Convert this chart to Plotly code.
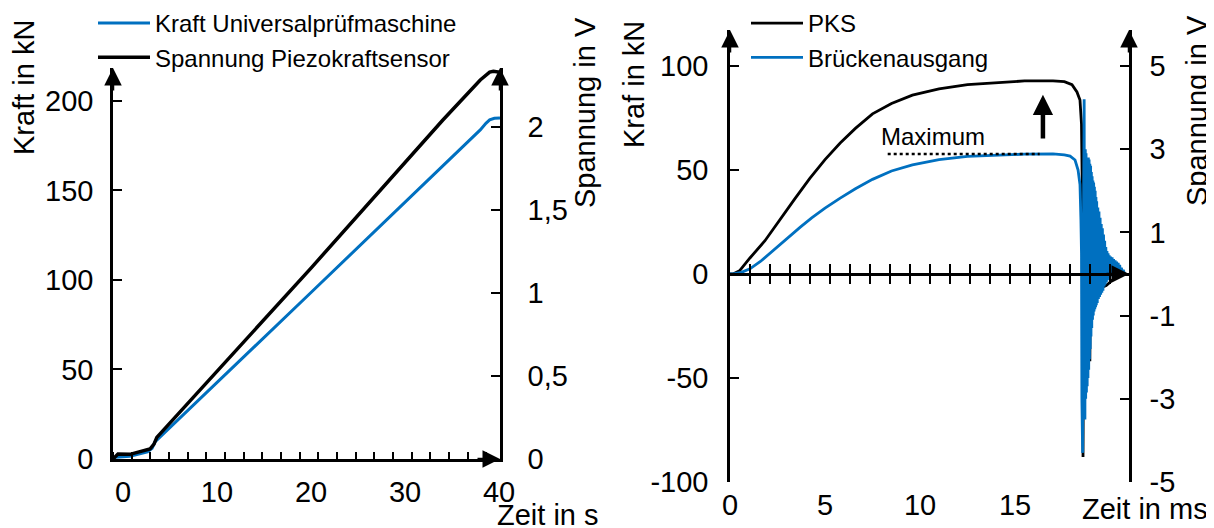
import plotly.graph_objects as go

# The page body has an 8 px margin, so the figure is drawn 8 px in from the top-left corner.
PAGE_OFFSET = 8
W, H = 1214 - PAGE_OFFSET, 528 - PAGE_OFFSET
FONT = "Liberation Sans, Arial, sans-serif"
BLUE = "#0070C0"
TICK_SIZE = 29
TITLE_SIZE = 29
LEG_SIZE = 24

# ---------------- left chart data ----------------
left_t_black = [-1.06, -0.53, 0.74, 1.8, 2.87, 3.3, 3.6, 20.0, 34.0, 38.0, 38.6, 39.0, 39.4, 39.8, 40.1]
left_v_black = [0.0, 0.03, 0.028, 0.042, 0.06, 0.09, 0.13, 1.15, 2.04, 2.283, 2.315, 2.33, 2.335, 2.335, 2.33]
left_t_blue = [-1.06, -0.8, 0.74, 1.8, 2.6, 3.1, 3.4, 20.0, 38.0, 38.6, 39.0, 39.5, 40.1]
left_f_blue = [0.0, 1.0, 1.5, 3.0, 4.0, 6.0, 9.5, 93.0, 183.8, 187.5, 189.4, 190.3, 190.5]
left_x_range = [-1.06, 40.1]
left_y_range = [0, 218.4]
left_y2_range = [0, 2.355]
left_x_labels = [0, 10, 20, 30, 40]

# ---------------- right chart data ----------------
# PKS (kN, left axis)
pks_t = [0, 0.16, 0.5, 1.05, 1.84, 2.6, 3.4, 4.2, 5.0, 5.8, 6.6, 7.5, 8.5, 9.6, 11.0, 12.5,
         14.0, 15.5, 17.0, 17.6, 18.0, 18.26, 18.42, 18.5, 18.55, 18.58,
         18.62, 18.66, 18.70, 18.74, 18.78, 18.82, 18.86, 18.90, 18.94, 18.98, 19.02, 19.06,
         19.10, 19.14, 19.18, 19.22, 19.26, 19.30, 19.34, 19.40, 19.46, 19.52, 19.60, 19.70,
         19.80, 19.90, 20.00, 20.10, 20.25, 20.40, 20.55, 20.70, 20.85]
pks_f = [0, 0, 1.5, 7.7, 16, 26, 36, 46, 55, 63, 70, 77, 82, 86, 89, 91,
         92, 92.8, 92.8, 92.5, 91, 87.5, 83.6, 72, 35, -88,
         0, 30, -30, 24, -35, 20, -38, 18, -42, 15, -25, 12,
         -18, 10, -15, 8, -12, 6, -10, 4, -8, 2, -6, -6,
         -5.6, -5, -4, -3, -2, -1.2, -0.4, 0.2, 0]
# Brückenausgang (V, right axis)
br_t_rise = [0, 0.16, 0.6, 1.05, 1.6, 2.1, 2.63, 3.2, 3.7, 4.3, 5.0, 5.8, 6.6, 7.5, 8.5, 9.6,
             11.0, 12.5, 14.0, 15.5, 17.0, 17.6, 17.9, 18.16, 18.32, 18.42, 18.47]
br_v_rise = [0, 0, 0.04, 0.125, 0.3, 0.5, 0.7, 0.925, 1.125, 1.35, 1.585, 1.825, 2.05, 2.275, 2.475, 2.625,
             2.75, 2.825, 2.86, 2.88, 2.885, 2.865, 2.835, 2.74, 2.5, 2.15, 1.3]
br_t_osc = [18.50, 18.52, 18.54, 18.56, 18.58, 18.60, 18.62, 18.64, 18.66, 18.68, 18.70, 18.72,
            18.74, 18.76, 18.78, 18.80, 18.82, 18.84, 18.86, 18.88, 18.90, 18.92, 18.94, 18.96,
            18.98, 19.00, 19.02, 19.04, 19.06, 19.08, 19.10, 19.12, 19.14, 19.16, 19.18, 19.20,
            19.22, 19.24, 19.26, 19.28, 19.30, 19.33, 19.36, 19.39, 19.42, 19.45, 19.48, 19.51,
            19.54, 19.57, 19.60, 19.63, 19.66, 19.69, 19.72, 19.75, 19.78, 19.81, 19.84, 19.87,
            19.90, 19.93, 19.96, 19.99, 20.03, 20.07, 20.11, 20.15, 20.19, 20.23, 20.27, 20.31,
            20.35, 20.39, 20.43, 20.47, 20.51, 20.55, 20.60, 20.65, 20.70, 20.75, 20.80]
br_v_osc = [0.5, -3.0, -3.6, -4.3, -1.0, 2.0, 3.2, 4.2, -2.0, -3.5, 3.0, -3.0,
            2.9, -2.85, 2.75, -2.7, 2.75, -2.5, 2.8, -2.3, 2.75, -2.05, 2.65, -1.8,
            2.6, -1.5, 2.45, -1.3, 2.35, -1.1, 2.25, -1.0, 2.2, -0.9, 2.1, -0.85,
            2.0, -0.8, 1.85, -0.75, 1.75, -0.7, 1.6, -0.6, 1.5, -0.55, 1.35, -0.5,
            1.2, -0.45, 1.1, -0.4, 0.95, -0.3, 0.8, -0.25, 0.65, -0.2, 0.55, -0.15,
            0.5, -0.1, 0.45, -0.08, 0.42, -0.05, 0.4, 0.0, 0.36, 0.0, 0.33, 0.02,
            0.3, 0.03, 0.27, 0.04, 0.22, 0.03, 0.15, 0.03, 0.1, 0.02, 0.02]
max_line_t = [8.3, 16.3]
max_label_t = 10.7
arrow_t = 16.47
arrow_from_to = [64.4, 86.2]
right_x_range = [0, 21]
right_y_range = [-100, 117.3]
right_y2_range = [-5, 5.865]
right_x_labels = [0, 5, 10, 15]
right_y_ticks = [-100, -50, 0, 50, 100]
right_y2_ticks = [-5, -3, -1, 1, 3, 5]
right_x_tick_step = 1.0526

# ---------------- layout geometry (screen pixels -> paper) ----------------
def px(x):
    return (x - PAGE_OFFSET) / W

def py(y):
    return 1 - (y - PAGE_OFFSET) / H

L_dom_x = [px(113), px(500)]
L_dom_y = [py(459), py(68)]
R_dom_x = [px(730), px(1129)]
R_dom_y = [py(482), py(30)]
zero_frac = (0 - right_y_range[0]) / (right_y_range[1] - right_y_range[0])
R_zero_pos = R_dom_y[0] + zero_frac * (R_dom_y[1] - R_dom_y[0])

fig = go.Figure()

# left chart traces
fig.add_trace(go.Scatter(x=left_t_blue, y=left_f_blue, mode="lines", name="Kraft Universalprüfmaschine",
                         line=dict(color=BLUE, width=3), xaxis="x", yaxis="y", legend="legend"))
fig.add_trace(go.Scatter(x=left_t_black, y=left_v_black, mode="lines", name="Spannung Piezokraftsensor",
                         line=dict(color="black", width=3.5), xaxis="x", yaxis="y2", legend="legend"))

# right chart traces
fig.add_trace(go.Scatter(x=pks_t, y=pks_f, mode="lines", name="PKS",
                         line=dict(color="black", width=2.8), xaxis="x3", yaxis="y3", legend="legend2"))
fig.add_trace(go.Scatter(x=br_t_rise + br_t_osc, y=br_v_rise + br_v_osc, mode="lines", name="Brückenausgang",
                         line=dict(color=BLUE, width=2.8), xaxis="x3", yaxis="y4", legend="legend2"))
max_level = max(br_v_rise)
fig.add_trace(go.Scatter(x=max_line_t, y=[max_level, max_level], mode="lines", showlegend=False,
                         line=dict(color="black", width=2.5, dash="dot"), xaxis="x3", yaxis="y4"))
# empty traces so that the overlay axes (tick-crossing and label axis) get drawn
fig.add_trace(go.Scatter(x=[], y=[], showlegend=False, hoverinfo="skip", xaxis="x4", yaxis="y3"))
fig.add_trace(go.Scatter(x=[], y=[], showlegend=False, hoverinfo="skip", xaxis="x5", yaxis="y3"))

tickfont = dict(size=TICK_SIZE, color="black", family=FONT)
axis_common = dict(showgrid=False, zeroline=False, showline=True, linecolor="black", linewidth=2.5,
                   tickfont=tickfont, tickcolor="black", automargin=False)

fig.update_layout(
    width=W, height=H, margin=dict(l=0, r=0, t=0, b=0, autoexpand=False),
    paper_bgcolor="white", plot_bgcolor="rgba(0,0,0,0)",
    font=dict(family=FONT, color="black", size=LEG_SIZE),
    separators=",.",
    # left chart axes
    xaxis=dict(axis_common, domain=L_dom_x, range=left_x_range, anchor="y",
               tickvals=left_x_labels, ticks="", ticklabelstandoff=5,
               minor=dict(ticks="inside", tick0=left_x_range[0], dtick=1.986, ticklen=7, tickwidth=2.2,
                          tickcolor="black")),
    yaxis=dict(axis_common, domain=L_dom_y, range=left_y_range, anchor="x", dtick=50, tick0=0,
               ticks="inside", ticklen=9, tickwidth=2.2, ticklabelstandoff=11),
    yaxis2=dict(axis_common, range=left_y2_range, overlaying="y", side="right", anchor="x",
                dtick=0.5, tick0=0, ticks="inside", ticklen=9, tickwidth=2.2, ticklabelstandoff=19),
    # right chart axes
    xaxis3=dict(axis_common, domain=R_dom_x, range=right_x_range, anchor="free", position=R_zero_pos,
                ticks="", showticklabels=False,
                minor=dict(ticks="inside", tick0=0, dtick=right_x_tick_step, ticklen=9, tickwidth=2.2,
                           tickcolor="black")),
    xaxis4=dict(showgrid=False, zeroline=False, showline=False, overlaying="x3", anchor="free",
                position=R_zero_pos, range=right_x_range, ticks="", showticklabels=False, automargin=False,
                minor=dict(ticks="outside", tick0=0, dtick=right_x_tick_step, ticklen=9, tickwidth=2.2,
                           tickcolor="black")),
    xaxis5=dict(showgrid=False, zeroline=False, showline=False, overlaying="x3", anchor="free",
                position=R_dom_y[0], range=right_x_range, tickvals=right_x_labels, ticks="",
                ticklabelstandoff=3, tickfont=tickfont, automargin=False),
    yaxis3=dict(axis_common, domain=R_dom_y, range=right_y_range, anchor="x3",
                tickvals=right_y_ticks, ticktext=[str(v) for v in right_y_ticks],
                ticks="inside", ticklen=9, tickwidth=2.2, ticklabelstandoff=13),
    yaxis4=dict(axis_common, range=right_y2_range, overlaying="y3", side="right", anchor="x3",
                tickvals=right_y2_ticks, ticktext=[str(v) for v in right_y2_ticks],
                ticks="inside", ticklen=9, tickwidth=2.2, ticklabelstandoff=12),
    legend=dict(x=px(93), y=py(1), xanchor="left", yanchor="top", bgcolor="rgba(0,0,0,0)",
                font=dict(size=LEG_SIZE, family=FONT), itemwidth=52, tracegroupgap=0),
    legend2=dict(x=px(746), y=py(1), xanchor="left", yanchor="top", bgcolor="rgba(0,0,0,0)",
                 font=dict(size=LEG_SIZE, family=FONT), itemwidth=52, tracegroupgap=0),
    showlegend=True,
)

ann = []
def title(text, x, y, angle=0):
    ann.append(dict(text=text, x=px(x), y=py(y), xref="paper", yref="paper", showarrow=False,
                    textangle=angle, font=dict(size=TITLE_SIZE, family=FONT, color="black"),
                    xanchor="center", yanchor="middle"))

title("Kraft in kN", 24, 88, -90)
title("Spannung in V", 585, 113, -90)
title("Zeit in s", 548, 515)
title("Kraf in kN", 634, 85, -90)
title("Spannung in V", 1197, 111, -90)
title("Zeit in ms", 1145, 509)

def axis_arrow(x, y, xref, yref, ax, ay):
    ann.append(dict(text="", x=x, y=y, xref=xref, yref=yref, ax=ax, ay=ay, showarrow=True,
                    arrowhead=2, arrowsize=1.4, arrowwidth=2.5, arrowcolor="black", standoff=0))

axis_arrow(left_x_range[0], left_y_range[1], "x", "y", 0, 24)
axis_arrow(left_x_range[1], left_y2_range[1], "x", "y2", 0, 24)
axis_arrow(left_x_range[1], 0, "x", "y", -24, 0)
axis_arrow(right_x_range[0], right_y_range[1], "x3", "y3", 0, 24)
axis_arrow(right_x_range[1], right_y2_range[1], "x3", "y4", 0, 24)
axis_arrow(right_x_range[1], 0, "x3", "y3", -24, 0)

ann.append(dict(text="", x=arrow_t, y=arrow_from_to[1], ax=arrow_t, ay=arrow_from_to[0],
                xref="x3", yref="y3", axref="x3", ayref="y3", showarrow=True,
                arrowhead=2, arrowsize=0.9, arrowwidth=4.5, arrowcolor="black", standoff=0))
ann.append(dict(text="Maximum", x=max_label_t, y=max_level, xref="x3", yref="y4", showarrow=False,
                yanchor="bottom", yshift=2, font=dict(size=LEG_SIZE, family=FONT, color="black")))

fig.update_layout(annotations=ann)
fig.write_html("out.html")
